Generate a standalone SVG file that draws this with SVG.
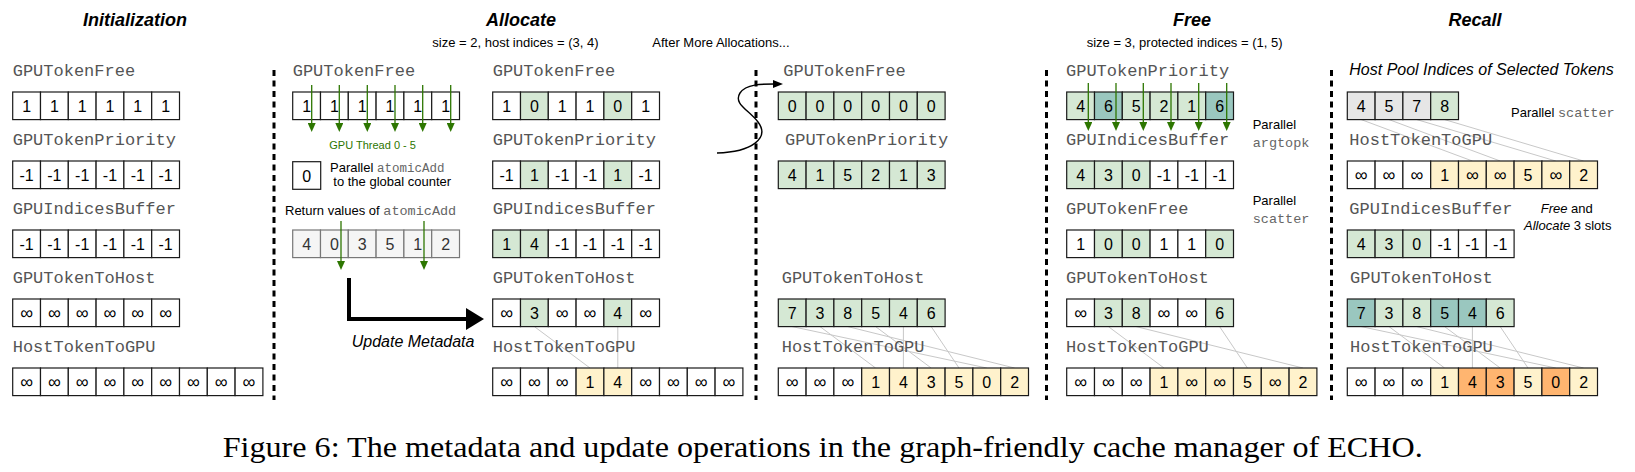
<svg xmlns="http://www.w3.org/2000/svg" width="1635" height="472" viewBox="0 0 1635 472">
<style>
.c{stroke:#1a1a1a;stroke-width:1.2;fill:#fff}
.g{fill:#d5e8d4}
.t{fill:#9ac7bf}
.y{fill:#fff2cc}
.o{fill:#ffb570}
.l{fill:#e6e6e6}
.gr{fill:#f5f5f5;stroke:#777}
.v{font-family:"Liberation Sans",Arial,sans-serif;font-size:16px;text-anchor:middle;fill:#000}
.i{font-size:18px}
.gv{fill:#333}
.m{font-family:"Liberation Mono","Courier New",monospace;font-size:17px;fill:#555}
.h{font-family:"Liberation Sans",Arial,sans-serif;font-size:18px;font-weight:bold;font-style:italic;text-anchor:middle}
.s{font-family:"Liberation Sans",Arial,sans-serif;font-size:13px;fill:#000}
.mm{font-family:"Liberation Mono","Courier New",monospace;fill:#666}
.ga{stroke:#2d7600;stroke-width:1.3;fill:none}
.ml{stroke:#c8c8c8;stroke-width:1}
.dv{stroke:#000;stroke-width:3;stroke-dasharray:6 4.5}
</style>
<defs>
<marker id="ag" viewBox="0 0 9 8" refX="1" refY="4" markerWidth="9" markerHeight="8" markerUnits="userSpaceOnUse" orient="auto"><path d="M0,0 L9,4 L0,8 z" fill="#2d7600"/></marker>
<marker id="ab" viewBox="0 0 10 8" refX="1" refY="4" markerWidth="10" markerHeight="8" markerUnits="userSpaceOnUse" orient="auto"><path d="M0,0 L10,4 L0,8 z" fill="#000"/></marker>
<marker id="abig" viewBox="0 0 18 22" refX="1" refY="11" markerWidth="18" markerHeight="22" markerUnits="userSpaceOnUse" orient="auto"><path d="M0,0 L18,11 L0,22 z" fill="#000"/></marker>
</defs>

<g id="titles">
<text class="h" x="135" y="26">Initialization</text>
<text class="h" x="521" y="26">Allocate</text>
<text class="h" x="1192" y="26">Free</text>
<text class="h" x="1475" y="26">Recall</text>
<text class="s" x="432.3" y="47">size = 2, host indices = (3, 4)</text>
<text class="s" x="652.3" y="47">After More Allocations...</text>
<text class="s" x="1086.7" y="47">size = 3, protected indices = (1, 5)</text>
</g>

<g id="dividers">
<line class="dv" x1="274" y1="70" x2="274" y2="400"/>
<line class="dv" x1="756" y1="70" x2="756" y2="400"/>
<line class="dv" x1="1046.5" y1="70" x2="1046.5" y2="400"/>
<line class="dv" x1="1331.5" y1="70" x2="1331.5" y2="400"/>
</g>

<g id="connectors">
<line class="ml" x1="534.4" y1="326.6" x2="590" y2="368"/>
<line class="ml" x1="617.8" y1="326.6" x2="617.8" y2="368"/>
<line class="ml" x1="792.2" y1="326.6" x2="986.8" y2="368"/>
<line class="ml" x1="820" y1="326.6" x2="875.6" y2="368"/>
<line class="ml" x1="847.8" y1="326.6" x2="1014.6" y2="368"/>
<line class="ml" x1="875.6" y1="326.6" x2="931.2" y2="368"/>
<line class="ml" x1="903.4" y1="326.6" x2="903.4" y2="368"/>
<line class="ml" x1="931.2" y1="326.6" x2="959" y2="368"/>
<line class="ml" x1="1108.4" y1="326.6" x2="1164" y2="368"/>
<line class="ml" x1="1136.2" y1="326.6" x2="1303" y2="368"/>
<line class="ml" x1="1219.6" y1="326.6" x2="1247.4" y2="368"/>
<line class="ml" x1="1361.2" y1="119.6" x2="1472.4" y2="161"/>
<line class="ml" x1="1389" y1="119.6" x2="1500.2" y2="161"/>
<line class="ml" x1="1416.8" y1="119.6" x2="1555.8" y2="161"/>
<line class="ml" x1="1444.6" y1="119.6" x2="1583.6" y2="161"/>
<line class="ml" x1="1361.2" y1="326.6" x2="1555.8" y2="368"/>
<line class="ml" x1="1389" y1="326.6" x2="1444.6" y2="368"/>
<line class="ml" x1="1416.8" y1="326.6" x2="1583.6" y2="368"/>
<line class="ml" x1="1444.6" y1="326.6" x2="1500.2" y2="368"/>
<line class="ml" x1="1472.4" y1="326.6" x2="1472.4" y2="368"/>
<line class="ml" x1="1500.2" y1="326.6" x2="1528" y2="368"/>
<path d="M349,278 V319 H467" fill="none" stroke="#000" stroke-width="4" marker-end="url(#abig)"/>
<path d="M717,153 C752,152 770,138 758,122 C749,110 733,104 740,93 C746,84 762,84 774,84" fill="none" stroke="#000" stroke-width="1.4" marker-end="url(#ab)"/>
</g>

<g id="init">
<text class="m" x="12.7" y="76">GPUTokenFree</text>
<g transform="translate(12.7,92)">
<rect class="c" x="0" width="27.8" height="27.6"/><rect class="c" x="27.8" width="27.8" height="27.6"/><rect class="c" x="55.6" width="27.8" height="27.6"/><rect class="c" x="83.4" width="27.8" height="27.6"/><rect class="c" x="111.2" width="27.8" height="27.6"/><rect class="c" x="139" width="27.8" height="27.6"/>
<text class="v" x="13.9" y="20">1</text><text class="v" x="41.7" y="20">1</text><text class="v" x="69.5" y="20">1</text><text class="v" x="97.3" y="20">1</text><text class="v" x="125.1" y="20">1</text><text class="v" x="152.9" y="20">1</text>
</g>
<text class="m" x="12.7" y="145">GPUTokenPriority</text>
<g transform="translate(12.7,161)">
<rect class="c" x="0" width="27.8" height="27.6"/><rect class="c" x="27.8" width="27.8" height="27.6"/><rect class="c" x="55.6" width="27.8" height="27.6"/><rect class="c" x="83.4" width="27.8" height="27.6"/><rect class="c" x="111.2" width="27.8" height="27.6"/><rect class="c" x="139" width="27.8" height="27.6"/>
<text class="v" x="13.9" y="20">-1</text><text class="v" x="41.7" y="20">-1</text><text class="v" x="69.5" y="20">-1</text><text class="v" x="97.3" y="20">-1</text><text class="v" x="125.1" y="20">-1</text><text class="v" x="152.9" y="20">-1</text>
</g>
<text class="m" x="12.7" y="214">GPUIndicesBuffer</text>
<g transform="translate(12.7,230)">
<rect class="c" x="0" width="27.8" height="27.6"/><rect class="c" x="27.8" width="27.8" height="27.6"/><rect class="c" x="55.6" width="27.8" height="27.6"/><rect class="c" x="83.4" width="27.8" height="27.6"/><rect class="c" x="111.2" width="27.8" height="27.6"/><rect class="c" x="139" width="27.8" height="27.6"/>
<text class="v" x="13.9" y="20">-1</text><text class="v" x="41.7" y="20">-1</text><text class="v" x="69.5" y="20">-1</text><text class="v" x="97.3" y="20">-1</text><text class="v" x="125.1" y="20">-1</text><text class="v" x="152.9" y="20">-1</text>
</g>
<text class="m" x="12.7" y="283">GPUTokenToHost</text>
<g transform="translate(12.7,299)">
<rect class="c" x="0" width="27.8" height="27.6"/><rect class="c" x="27.8" width="27.8" height="27.6"/><rect class="c" x="55.6" width="27.8" height="27.6"/><rect class="c" x="83.4" width="27.8" height="27.6"/><rect class="c" x="111.2" width="27.8" height="27.6"/><rect class="c" x="139" width="27.8" height="27.6"/>
<text class="v i" x="13.9" y="20">∞</text><text class="v i" x="41.7" y="20">∞</text><text class="v i" x="69.5" y="20">∞</text><text class="v i" x="97.3" y="20">∞</text><text class="v i" x="125.1" y="20">∞</text><text class="v i" x="152.9" y="20">∞</text>
</g>
<text class="m" x="12.7" y="352">HostTokenToGPU</text>
<g transform="translate(12.7,368)">
<rect class="c" x="0" width="27.8" height="27.6"/><rect class="c" x="27.8" width="27.8" height="27.6"/><rect class="c" x="55.6" width="27.8" height="27.6"/><rect class="c" x="83.4" width="27.8" height="27.6"/><rect class="c" x="111.2" width="27.8" height="27.6"/><rect class="c" x="139" width="27.8" height="27.6"/><rect class="c" x="166.8" width="27.8" height="27.6"/><rect class="c" x="194.6" width="27.8" height="27.6"/><rect class="c" x="222.4" width="27.8" height="27.6"/>
<text class="v i" x="13.9" y="20">∞</text><text class="v i" x="41.7" y="20">∞</text><text class="v i" x="69.5" y="20">∞</text><text class="v i" x="97.3" y="20">∞</text><text class="v i" x="125.1" y="20">∞</text><text class="v i" x="152.9" y="20">∞</text><text class="v i" x="180.7" y="20">∞</text><text class="v i" x="208.5" y="20">∞</text><text class="v i" x="236.3" y="20">∞</text>
</g>
</g>

<g id="alloc-threads">
<text class="m" x="292.7" y="76">GPUTokenFree</text>
<g transform="translate(292.7,92)">
<rect class="c" x="0" width="27.8" height="27.6"/><rect class="c" x="27.8" width="27.8" height="27.6"/><rect class="c" x="55.6" width="27.8" height="27.6"/><rect class="c" x="83.4" width="27.8" height="27.6"/><rect class="c" x="111.2" width="27.8" height="27.6"/><rect class="c" x="139" width="27.8" height="27.6"/>
<text class="v" x="13.9" y="20">1</text><text class="v" x="41.7" y="20">1</text><text class="v" x="69.5" y="20">1</text><text class="v" x="97.3" y="20">1</text><text class="v" x="125.1" y="20">1</text><text class="v" x="152.9" y="20">1</text>
</g>
<line class="ga" x1="311.7" y1="85" x2="311.7" y2="124" marker-end="url(#ag)"/>
<line class="ga" x1="339.3" y1="85" x2="339.3" y2="124" marker-end="url(#ag)"/>
<line class="ga" x1="367.3" y1="85" x2="367.3" y2="124" marker-end="url(#ag)"/>
<line class="ga" x1="395" y1="85" x2="395" y2="124" marker-end="url(#ag)"/>
<line class="ga" x1="422.7" y1="85" x2="422.7" y2="124" marker-end="url(#ag)"/>
<line class="ga" x1="450.7" y1="85" x2="450.7" y2="124" marker-end="url(#ag)"/>
<text x="329.3" y="149" font-family="Liberation Sans, Arial, sans-serif" font-size="11" fill="#2d7600">GPU Thread 0 - 5</text>
<rect class="c" x="292.7" y="161.7" width="28" height="27.6"/>
<text class="v" x="306.7" y="181.7">0</text>
<text class="s" x="330" y="171.7" font-size="12.5">Parallel <tspan class="mm" font-size="12.5">atomicAdd</tspan></text>
<text class="s" x="333.3" y="185.5" font-size="12.5">to the global counter</text>
<text class="s" x="285" y="214.5" font-size="13.5">Return values of <tspan class="mm" font-size="13.5">atomicAdd</tspan></text>
<g transform="translate(292.7,230)">
<rect class="c gr" x="0" width="27.8" height="27.6"/><rect class="c gr" x="27.8" width="27.8" height="27.6"/><rect class="c gr" x="55.6" width="27.8" height="27.6"/><rect class="c gr" x="83.4" width="27.8" height="27.6"/><rect class="c gr" x="111.2" width="27.8" height="27.6"/><rect class="c gr" x="139" width="27.8" height="27.6"/>
<text class="v gv" x="13.9" y="20">4</text><text class="v gv" x="41.7" y="20">0</text><text class="v gv" x="69.5" y="20">3</text><text class="v gv" x="97.3" y="20">5</text><text class="v gv" x="125.1" y="20">1</text><text class="v gv" x="152.9" y="20">2</text>
</g>
<line class="ga" x1="341" y1="221" x2="341" y2="262" marker-end="url(#ag)"/>
<line class="ga" x1="424" y1="221" x2="424" y2="262" marker-end="url(#ag)"/>
<text x="351.7" y="346.5" font-family="Liberation Sans, Arial, sans-serif" font-size="16" font-style="italic">Update Metadata</text>
</g>

<g id="alloc-result">
<text class="m" x="492.7" y="76">GPUTokenFree</text>
<g transform="translate(492.7,92)">
<rect class="c" x="0" width="27.8" height="27.6"/><rect class="c g" x="27.8" width="27.8" height="27.6"/><rect class="c" x="55.6" width="27.8" height="27.6"/><rect class="c" x="83.4" width="27.8" height="27.6"/><rect class="c g" x="111.2" width="27.8" height="27.6"/><rect class="c" x="139" width="27.8" height="27.6"/>
<text class="v" x="13.9" y="20">1</text><text class="v" x="41.7" y="20">0</text><text class="v" x="69.5" y="20">1</text><text class="v" x="97.3" y="20">1</text><text class="v" x="125.1" y="20">0</text><text class="v" x="152.9" y="20">1</text>
</g>
<text class="m" x="492.7" y="145">GPUTokenPriority</text>
<g transform="translate(492.7,161)">
<rect class="c" x="0" width="27.8" height="27.6"/><rect class="c g" x="27.8" width="27.8" height="27.6"/><rect class="c" x="55.6" width="27.8" height="27.6"/><rect class="c" x="83.4" width="27.8" height="27.6"/><rect class="c g" x="111.2" width="27.8" height="27.6"/><rect class="c" x="139" width="27.8" height="27.6"/>
<text class="v" x="13.9" y="20">-1</text><text class="v" x="41.7" y="20">1</text><text class="v" x="69.5" y="20">-1</text><text class="v" x="97.3" y="20">-1</text><text class="v" x="125.1" y="20">1</text><text class="v" x="152.9" y="20">-1</text>
</g>
<text class="m" x="492.7" y="214">GPUIndicesBuffer</text>
<g transform="translate(492.7,230)">
<rect class="c g" x="0" width="27.8" height="27.6"/><rect class="c g" x="27.8" width="27.8" height="27.6"/><rect class="c" x="55.6" width="27.8" height="27.6"/><rect class="c" x="83.4" width="27.8" height="27.6"/><rect class="c" x="111.2" width="27.8" height="27.6"/><rect class="c" x="139" width="27.8" height="27.6"/>
<text class="v" x="13.9" y="20">1</text><text class="v" x="41.7" y="20">4</text><text class="v" x="69.5" y="20">-1</text><text class="v" x="97.3" y="20">-1</text><text class="v" x="125.1" y="20">-1</text><text class="v" x="152.9" y="20">-1</text>
</g>
<text class="m" x="492.7" y="283">GPUTokenToHost</text>
<g transform="translate(492.7,299)">
<rect class="c" x="0" width="27.8" height="27.6"/><rect class="c g" x="27.8" width="27.8" height="27.6"/><rect class="c" x="55.6" width="27.8" height="27.6"/><rect class="c" x="83.4" width="27.8" height="27.6"/><rect class="c g" x="111.2" width="27.8" height="27.6"/><rect class="c" x="139" width="27.8" height="27.6"/>
<text class="v i" x="13.9" y="20">∞</text><text class="v" x="41.7" y="20">3</text><text class="v i" x="69.5" y="20">∞</text><text class="v i" x="97.3" y="20">∞</text><text class="v" x="125.1" y="20">4</text><text class="v i" x="152.9" y="20">∞</text>
</g>
<text class="m" x="492.7" y="352">HostTokenToGPU</text>
<g transform="translate(492.7,368)">
<rect class="c" x="0" width="27.8" height="27.6"/><rect class="c" x="27.8" width="27.8" height="27.6"/><rect class="c" x="55.6" width="27.8" height="27.6"/><rect class="c y" x="83.4" width="27.8" height="27.6"/><rect class="c y" x="111.2" width="27.8" height="27.6"/><rect class="c" x="139" width="27.8" height="27.6"/><rect class="c" x="166.8" width="27.8" height="27.6"/><rect class="c" x="194.6" width="27.8" height="27.6"/><rect class="c" x="222.4" width="27.8" height="27.6"/>
<text class="v i" x="13.9" y="20">∞</text><text class="v i" x="41.7" y="20">∞</text><text class="v i" x="69.5" y="20">∞</text><text class="v" x="97.3" y="20">1</text><text class="v" x="125.1" y="20">4</text><text class="v i" x="152.9" y="20">∞</text><text class="v i" x="180.7" y="20">∞</text><text class="v i" x="208.5" y="20">∞</text><text class="v i" x="236.3" y="20">∞</text>
</g>
</g>

<g id="after-more">
<text class="m" x="783.3" y="76">GPUTokenFree</text>
<g transform="translate(778.3,92)">
<rect class="c g" x="0" width="27.8" height="27.6"/><rect class="c g" x="27.8" width="27.8" height="27.6"/><rect class="c g" x="55.6" width="27.8" height="27.6"/><rect class="c g" x="83.4" width="27.8" height="27.6"/><rect class="c g" x="111.2" width="27.8" height="27.6"/><rect class="c g" x="139" width="27.8" height="27.6"/>
<text class="v" x="13.9" y="20">0</text><text class="v" x="41.7" y="20">0</text><text class="v" x="69.5" y="20">0</text><text class="v" x="97.3" y="20">0</text><text class="v" x="125.1" y="20">0</text><text class="v" x="152.9" y="20">0</text>
</g>
<text class="m" x="785" y="145">GPUTokenPriority</text>
<g transform="translate(778.3,161)">
<rect class="c g" x="0" width="27.8" height="27.6"/><rect class="c g" x="27.8" width="27.8" height="27.6"/><rect class="c g" x="55.6" width="27.8" height="27.6"/><rect class="c g" x="83.4" width="27.8" height="27.6"/><rect class="c g" x="111.2" width="27.8" height="27.6"/><rect class="c g" x="139" width="27.8" height="27.6"/>
<text class="v" x="13.9" y="20">4</text><text class="v" x="41.7" y="20">1</text><text class="v" x="69.5" y="20">5</text><text class="v" x="97.3" y="20">2</text><text class="v" x="125.1" y="20">1</text><text class="v" x="152.9" y="20">3</text>
</g>
<text class="m" x="781.7" y="283">GPUTokenToHost</text>
<g transform="translate(778.3,299)">
<rect class="c g" x="0" width="27.8" height="27.6"/><rect class="c g" x="27.8" width="27.8" height="27.6"/><rect class="c g" x="55.6" width="27.8" height="27.6"/><rect class="c g" x="83.4" width="27.8" height="27.6"/><rect class="c g" x="111.2" width="27.8" height="27.6"/><rect class="c g" x="139" width="27.8" height="27.6"/>
<text class="v" x="13.9" y="20">7</text><text class="v" x="41.7" y="20">3</text><text class="v" x="69.5" y="20">8</text><text class="v" x="97.3" y="20">5</text><text class="v" x="125.1" y="20">4</text><text class="v" x="152.9" y="20">6</text>
</g>
<text class="m" x="781.7" y="352">HostTokenToGPU</text>
<g transform="translate(778.3,368)">
<rect class="c" x="0" width="27.8" height="27.6"/><rect class="c" x="27.8" width="27.8" height="27.6"/><rect class="c" x="55.6" width="27.8" height="27.6"/><rect class="c y" x="83.4" width="27.8" height="27.6"/><rect class="c y" x="111.2" width="27.8" height="27.6"/><rect class="c y" x="139" width="27.8" height="27.6"/><rect class="c y" x="166.8" width="27.8" height="27.6"/><rect class="c y" x="194.6" width="27.8" height="27.6"/><rect class="c y" x="222.4" width="27.8" height="27.6"/>
<text class="v i" x="13.9" y="20">∞</text><text class="v i" x="41.7" y="20">∞</text><text class="v i" x="69.5" y="20">∞</text><text class="v" x="97.3" y="20">1</text><text class="v" x="125.1" y="20">4</text><text class="v" x="152.9" y="20">3</text><text class="v" x="180.7" y="20">5</text><text class="v" x="208.5" y="20">0</text><text class="v" x="236.3" y="20">2</text>
</g>
</g>

<g id="free">
<text class="m" x="1066" y="76">GPUTokenPriority</text>
<g transform="translate(1066.7,92)">
<rect class="c g" x="0" width="27.8" height="27.6"/><rect class="c t" x="27.8" width="27.8" height="27.6"/><rect class="c g" x="55.6" width="27.8" height="27.6"/><rect class="c g" x="83.4" width="27.8" height="27.6"/><rect class="c g" x="111.2" width="27.8" height="27.6"/><rect class="c t" x="139" width="27.8" height="27.6"/>
<text class="v" x="13.9" y="20">4</text><text class="v" x="41.7" y="20">6</text><text class="v" x="69.5" y="20">5</text><text class="v" x="97.3" y="20">2</text><text class="v" x="125.1" y="20">1</text><text class="v" x="152.9" y="20">6</text>
</g>
<line class="ga" x1="1088.3" y1="83" x2="1088.3" y2="123" marker-end="url(#ag)"/>
<line class="ga" x1="1116" y1="83" x2="1116" y2="123" marker-end="url(#ag)"/>
<line class="ga" x1="1143.3" y1="83" x2="1143.3" y2="123" marker-end="url(#ag)"/>
<line class="ga" x1="1171" y1="83" x2="1171" y2="123" marker-end="url(#ag)"/>
<line class="ga" x1="1198.7" y1="83" x2="1198.7" y2="123" marker-end="url(#ag)"/>
<line class="ga" x1="1226.7" y1="83" x2="1226.7" y2="123" marker-end="url(#ag)"/>
<text class="s" x="1252.7" y="129.3" font-size="13.5">Parallel</text>
<text class="mm" x="1252.7" y="146.7" font-size="13.5">argtopk</text>
<text class="s" x="1252.7" y="205" font-size="13.5">Parallel</text>
<text class="mm" x="1252.7" y="222.7" font-size="13.5">scatter</text>
<text class="m" x="1066" y="145">GPUIndicesBuffer</text>
<g transform="translate(1066.7,161)">
<rect class="c g" x="0" width="27.8" height="27.6"/><rect class="c g" x="27.8" width="27.8" height="27.6"/><rect class="c g" x="55.6" width="27.8" height="27.6"/><rect class="c" x="83.4" width="27.8" height="27.6"/><rect class="c" x="111.2" width="27.8" height="27.6"/><rect class="c" x="139" width="27.8" height="27.6"/>
<text class="v" x="13.9" y="20">4</text><text class="v" x="41.7" y="20">3</text><text class="v" x="69.5" y="20">0</text><text class="v" x="97.3" y="20">-1</text><text class="v" x="125.1" y="20">-1</text><text class="v" x="152.9" y="20">-1</text>
</g>
<text class="m" x="1066" y="214">GPUTokenFree</text>
<g transform="translate(1066.7,230)">
<rect class="c" x="0" width="27.8" height="27.6"/><rect class="c g" x="27.8" width="27.8" height="27.6"/><rect class="c g" x="55.6" width="27.8" height="27.6"/><rect class="c" x="83.4" width="27.8" height="27.6"/><rect class="c" x="111.2" width="27.8" height="27.6"/><rect class="c g" x="139" width="27.8" height="27.6"/>
<text class="v" x="13.9" y="20">1</text><text class="v" x="41.7" y="20">0</text><text class="v" x="69.5" y="20">0</text><text class="v" x="97.3" y="20">1</text><text class="v" x="125.1" y="20">1</text><text class="v" x="152.9" y="20">0</text>
</g>
<text class="m" x="1066" y="283">GPUTokenToHost</text>
<g transform="translate(1066.7,299)">
<rect class="c" x="0" width="27.8" height="27.6"/><rect class="c g" x="27.8" width="27.8" height="27.6"/><rect class="c g" x="55.6" width="27.8" height="27.6"/><rect class="c" x="83.4" width="27.8" height="27.6"/><rect class="c" x="111.2" width="27.8" height="27.6"/><rect class="c g" x="139" width="27.8" height="27.6"/>
<text class="v i" x="13.9" y="20">∞</text><text class="v" x="41.7" y="20">3</text><text class="v" x="69.5" y="20">8</text><text class="v i" x="97.3" y="20">∞</text><text class="v i" x="125.1" y="20">∞</text><text class="v" x="152.9" y="20">6</text>
</g>
<text class="m" x="1066" y="352">HostTokenToGPU</text>
<g transform="translate(1066.7,368)">
<rect class="c" x="0" width="27.8" height="27.6"/><rect class="c" x="27.8" width="27.8" height="27.6"/><rect class="c" x="55.6" width="27.8" height="27.6"/><rect class="c y" x="83.4" width="27.8" height="27.6"/><rect class="c y" x="111.2" width="27.8" height="27.6"/><rect class="c y" x="139" width="27.8" height="27.6"/><rect class="c y" x="166.8" width="27.8" height="27.6"/><rect class="c y" x="194.6" width="27.8" height="27.6"/><rect class="c y" x="222.4" width="27.8" height="27.6"/>
<text class="v i" x="13.9" y="20">∞</text><text class="v i" x="41.7" y="20">∞</text><text class="v i" x="69.5" y="20">∞</text><text class="v" x="97.3" y="20">1</text><text class="v i" x="125.1" y="20">∞</text><text class="v i" x="152.9" y="20">∞</text><text class="v" x="180.7" y="20">5</text><text class="v i" x="208.5" y="20">∞</text><text class="v" x="236.3" y="20">2</text>
</g>
</g>

<g id="recall">
<text x="1349.3" y="75" font-family="Liberation Sans, Arial, sans-serif" font-size="16" font-style="italic">Host Pool Indices of Selected Tokens</text>
<g transform="translate(1347.3,92)">
<rect class="c l" x="0" width="27.8" height="27.6"/><rect class="c l" x="27.8" width="27.8" height="27.6"/><rect class="c l" x="55.6" width="27.8" height="27.6"/><rect class="c g" x="83.4" width="27.8" height="27.6"/>
<text class="v" x="13.9" y="20">4</text><text class="v" x="41.7" y="20">5</text><text class="v" x="69.5" y="20">7</text><text class="v" x="97.3" y="20">8</text>
</g>
<text class="s" x="1511" y="117.3" font-size="13.5">Parallel <tspan class="mm" font-size="13.5">scatter</tspan></text>
<text class="m" x="1349.3" y="145">HostTokenToGPU</text>
<g transform="translate(1347.3,161)">
<rect class="c" x="0" width="27.8" height="27.6"/><rect class="c" x="27.8" width="27.8" height="27.6"/><rect class="c" x="55.6" width="27.8" height="27.6"/><rect class="c y" x="83.4" width="27.8" height="27.6"/><rect class="c y" x="111.2" width="27.8" height="27.6"/><rect class="c y" x="139" width="27.8" height="27.6"/><rect class="c y" x="166.8" width="27.8" height="27.6"/><rect class="c y" x="194.6" width="27.8" height="27.6"/><rect class="c y" x="222.4" width="27.8" height="27.6"/>
<text class="v i" x="13.9" y="20">∞</text><text class="v i" x="41.7" y="20">∞</text><text class="v i" x="69.5" y="20">∞</text><text class="v" x="97.3" y="20">1</text><text class="v i" x="125.1" y="20">∞</text><text class="v i" x="152.9" y="20">∞</text><text class="v" x="180.7" y="20">5</text><text class="v i" x="208.5" y="20">∞</text><text class="v" x="236.3" y="20">2</text>
</g>
<text class="s" x="1540.7" y="213.3" font-size="13.5"><tspan font-style="italic">Free</tspan> and</text>
<text class="s" x="1524" y="230" font-size="13.5"><tspan font-style="italic">Allocate</tspan> 3 slots</text>
<text class="m" x="1349.3" y="214">GPUIndicesBuffer</text>
<g transform="translate(1347.3,230)">
<rect class="c g" x="0" width="27.8" height="27.6"/><rect class="c g" x="27.8" width="27.8" height="27.6"/><rect class="c g" x="55.6" width="27.8" height="27.6"/><rect class="c" x="83.4" width="27.8" height="27.6"/><rect class="c" x="111.2" width="27.8" height="27.6"/><rect class="c" x="139" width="27.8" height="27.6"/>
<text class="v" x="13.9" y="20">4</text><text class="v" x="41.7" y="20">3</text><text class="v" x="69.5" y="20">0</text><text class="v" x="97.3" y="20">-1</text><text class="v" x="125.1" y="20">-1</text><text class="v" x="152.9" y="20">-1</text>
</g>
<text class="m" x="1350" y="283">GPUTokenToHost</text>
<g transform="translate(1347.3,299)">
<rect class="c t" x="0" width="27.8" height="27.6"/><rect class="c g" x="27.8" width="27.8" height="27.6"/><rect class="c g" x="55.6" width="27.8" height="27.6"/><rect class="c t" x="83.4" width="27.8" height="27.6"/><rect class="c t" x="111.2" width="27.8" height="27.6"/><rect class="c g" x="139" width="27.8" height="27.6"/>
<text class="v" x="13.9" y="20">7</text><text class="v" x="41.7" y="20">3</text><text class="v" x="69.5" y="20">8</text><text class="v" x="97.3" y="20">5</text><text class="v" x="125.1" y="20">4</text><text class="v" x="152.9" y="20">6</text>
</g>
<text class="m" x="1350" y="352">HostTokenToGPU</text>
<g transform="translate(1347.3,368)">
<rect class="c" x="0" width="27.8" height="27.6"/><rect class="c" x="27.8" width="27.8" height="27.6"/><rect class="c" x="55.6" width="27.8" height="27.6"/><rect class="c y" x="83.4" width="27.8" height="27.6"/><rect class="c o" x="111.2" width="27.8" height="27.6"/><rect class="c o" x="139" width="27.8" height="27.6"/><rect class="c y" x="166.8" width="27.8" height="27.6"/><rect class="c o" x="194.6" width="27.8" height="27.6"/><rect class="c y" x="222.4" width="27.8" height="27.6"/>
<text class="v i" x="13.9" y="20">∞</text><text class="v i" x="41.7" y="20">∞</text><text class="v i" x="69.5" y="20">∞</text><text class="v" x="97.3" y="20">1</text><text class="v" x="125.1" y="20">4</text><text class="v" x="152.9" y="20">3</text><text class="v" x="180.7" y="20">5</text><text class="v" x="208.5" y="20">0</text><text class="v" x="236.3" y="20">2</text>
</g>
</g>

<text id="caption" x="222.7" y="457" font-family="Liberation Serif, Times New Roman, serif" font-size="29.5" fill="#000" textLength="1200" lengthAdjust="spacingAndGlyphs">Figure 6: The metadata and update operations in the graph-friendly cache manager of ECHO.</text>
</svg>
